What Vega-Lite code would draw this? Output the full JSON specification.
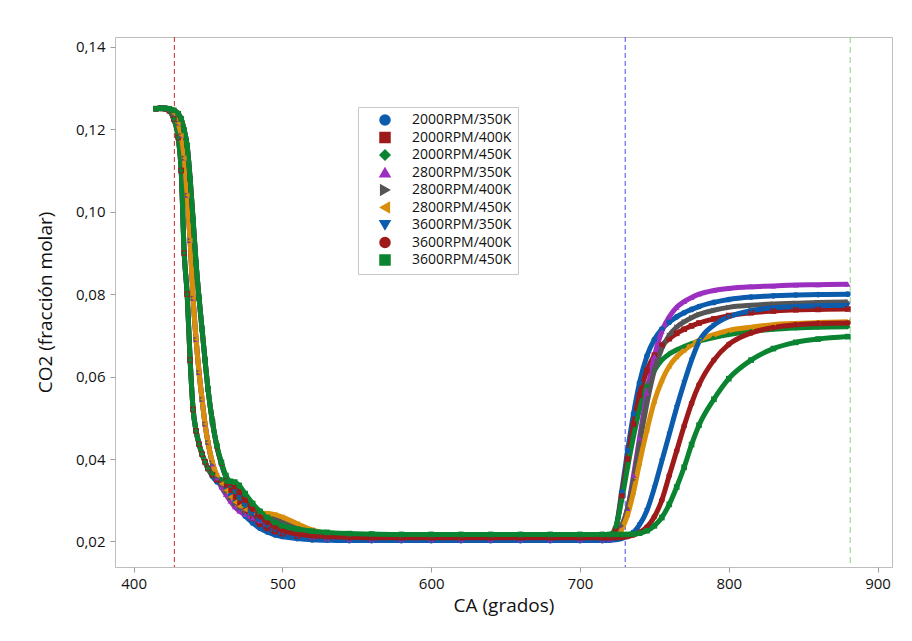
{
"$schema":"https://vega.github.io/schema/vega-lite/v6.json",
"width":777,"height":530,
"autosize":{"type":"none"},
"padding":{"left":115,"top":37,"right":20,"bottom":74},
"background":"white",
"config":{
"view":{"stroke":"#bdbdbd","strokeWidth":1},
"font":"Open Sans",
"axis":{"domain":false,"grid":false,"tickColor":"#9e9e9e","tickSize":5,"labelFont":"Open Sans","labelFontSize":15,"labelColor":"#111","titleFont":"Open Sans","titleFontSize":19,"titleFontWeight":"normal","titleColor":"#111"},
"legend":{"labelFont":"Open Sans","labelFontSize":14,"labelColor":"#111"}
},
"data":{"values":[
{"s":"2000RPM/350K","x":415,"y":0.1250},{"s":"2000RPM/350K","x":418,"y":0.1251},{"s":"2000RPM/350K","x":421,"y":0.1250},{"s":"2000RPM/350K","x":424,"y":0.1245},{"s":"2000RPM/350K","x":427,"y":0.1225},{"s":"2000RPM/350K","x":430,"y":0.1180},{"s":"2000RPM/350K","x":432,"y":0.1100},{"s":"2000RPM/350K","x":434,"y":0.0900},{"s":"2000RPM/350K","x":436,"y":0.0800},{"s":"2000RPM/350K","x":438,"y":0.0640},{"s":"2000RPM/350K","x":440,"y":0.0520},{"s":"2000RPM/350K","x":442,"y":0.0468},{"s":"2000RPM/350K","x":444,"y":0.0436},{"s":"2000RPM/350K","x":446,"y":0.0412},{"s":"2000RPM/350K","x":448,"y":0.0393},{"s":"2000RPM/350K","x":450,"y":0.0377},
{"s":"2000RPM/350K","x":453,"y":0.0358},{"s":"2000RPM/350K","x":456,"y":0.0345},{"s":"2000RPM/350K","x":459,"y":0.0338},{"s":"2000RPM/350K","x":462,"y":0.0328},{"s":"2000RPM/350K","x":465,"y":0.0312},{"s":"2000RPM/350K","x":468,"y":0.0295},{"s":"2000RPM/350K","x":471,"y":0.0280},{"s":"2000RPM/350K","x":475,"y":0.0262},{"s":"2000RPM/350K","x":480,"y":0.0245},{"s":"2000RPM/350K","x":485,"y":0.0232},{"s":"2000RPM/350K","x":490,"y":0.0223},{"s":"2000RPM/350K","x":495,"y":0.0216},{"s":"2000RPM/350K","x":500,"y":0.0212},{"s":"2000RPM/350K","x":510,"y":0.0207},{"s":"2000RPM/350K","x":520,"y":0.0204},{"s":"2000RPM/350K","x":530,"y":0.0203},
{"s":"2000RPM/350K","x":545,"y":0.0202},{"s":"2000RPM/350K","x":560,"y":0.0202},{"s":"2000RPM/350K","x":580,"y":0.0202},{"s":"2000RPM/350K","x":600,"y":0.0202},{"s":"2000RPM/350K","x":620,"y":0.0202},{"s":"2000RPM/350K","x":640,"y":0.0202},{"s":"2000RPM/350K","x":660,"y":0.0202},{"s":"2000RPM/350K","x":680,"y":0.0202},{"s":"2000RPM/350K","x":700,"y":0.0202},{"s":"2000RPM/350K","x":715,"y":0.0202},{"s":"2000RPM/350K","x":720,"y":0.0203},
{"s":"2000RPM/350K","x":724,"y":0.0230},{"s":"2000RPM/350K","x":728,"y":0.0320},{"s":"2000RPM/350K","x":732,"y":0.0420},{"s":"2000RPM/350K","x":736,"y":0.0510},{"s":"2000RPM/350K","x":740,"y":0.0585},{"s":"2000RPM/350K","x":745,"y":0.0650},{"s":"2000RPM/350K","x":750,"y":0.0690},{"s":"2000RPM/350K","x":755,"y":0.0715},{"s":"2000RPM/350K","x":760,"y":0.0732},{"s":"2000RPM/350K","x":765,"y":0.0745},{"s":"2000RPM/350K","x":770,"y":0.0755},{"s":"2000RPM/350K","x":775,"y":0.0763},{"s":"2000RPM/350K","x":780,"y":0.0770},{"s":"2000RPM/350K","x":790,"y":0.0780},{"s":"2000RPM/350K","x":800,"y":0.0787},{"s":"2000RPM/350K","x":815,"y":0.0793},{"s":"2000RPM/350K","x":830,"y":0.0796},{"s":"2000RPM/350K","x":845,"y":0.0798},{"s":"2000RPM/350K","x":860,"y":0.0799},{"s":"2000RPM/350K","x":880,"y":0.0800},

{"s":"2000RPM/400K","x":415,"y":0.1250},{"s":"2000RPM/400K","x":418,"y":0.1251},{"s":"2000RPM/400K","x":421,"y":0.1250},{"s":"2000RPM/400K","x":424,"y":0.1245},{"s":"2000RPM/400K","x":427,"y":0.1225},{"s":"2000RPM/400K","x":430,"y":0.1180},{"s":"2000RPM/400K","x":432,"y":0.1100},{"s":"2000RPM/400K","x":434,"y":0.0900},{"s":"2000RPM/400K","x":436,"y":0.0800},{"s":"2000RPM/400K","x":438,"y":0.0640},{"s":"2000RPM/400K","x":440,"y":0.0520},{"s":"2000RPM/400K","x":442,"y":0.0468},{"s":"2000RPM/400K","x":444,"y":0.0436},{"s":"2000RPM/400K","x":446,"y":0.0412},{"s":"2000RPM/400K","x":448,"y":0.0393},{"s":"2000RPM/400K","x":450,"y":0.0377},
{"s":"2000RPM/400K","x":453,"y":0.0362},{"s":"2000RPM/400K","x":456,"y":0.0350},{"s":"2000RPM/400K","x":459,"y":0.0346},{"s":"2000RPM/400K","x":462,"y":0.0338},{"s":"2000RPM/400K","x":465,"y":0.0325},{"s":"2000RPM/400K","x":468,"y":0.0308},{"s":"2000RPM/400K","x":471,"y":0.0292},{"s":"2000RPM/400K","x":475,"y":0.0274},{"s":"2000RPM/400K","x":480,"y":0.0256},{"s":"2000RPM/400K","x":485,"y":0.0242},{"s":"2000RPM/400K","x":490,"y":0.0232},{"s":"2000RPM/400K","x":495,"y":0.0224},{"s":"2000RPM/400K","x":500,"y":0.0219},{"s":"2000RPM/400K","x":510,"y":0.0213},{"s":"2000RPM/400K","x":520,"y":0.0210},{"s":"2000RPM/400K","x":530,"y":0.0209},
{"s":"2000RPM/400K","x":545,"y":0.0208},{"s":"2000RPM/400K","x":560,"y":0.0208},{"s":"2000RPM/400K","x":580,"y":0.0208},{"s":"2000RPM/400K","x":600,"y":0.0208},{"s":"2000RPM/400K","x":620,"y":0.0208},{"s":"2000RPM/400K","x":640,"y":0.0208},{"s":"2000RPM/400K","x":660,"y":0.0208},{"s":"2000RPM/400K","x":680,"y":0.0208},{"s":"2000RPM/400K","x":700,"y":0.0208},{"s":"2000RPM/400K","x":715,"y":0.0208},{"s":"2000RPM/400K","x":720,"y":0.0208},
{"s":"2000RPM/400K","x":724,"y":0.0230},{"s":"2000RPM/400K","x":728,"y":0.0310},{"s":"2000RPM/400K","x":732,"y":0.0400},{"s":"2000RPM/400K","x":736,"y":0.0485},{"s":"2000RPM/400K","x":740,"y":0.0555},{"s":"2000RPM/400K","x":745,"y":0.0615},{"s":"2000RPM/400K","x":750,"y":0.0652},{"s":"2000RPM/400K","x":755,"y":0.0676},{"s":"2000RPM/400K","x":760,"y":0.0692},{"s":"2000RPM/400K","x":765,"y":0.0705},{"s":"2000RPM/400K","x":770,"y":0.0715},{"s":"2000RPM/400K","x":775,"y":0.0723},{"s":"2000RPM/400K","x":780,"y":0.0730},{"s":"2000RPM/400K","x":790,"y":0.0740},{"s":"2000RPM/400K","x":800,"y":0.0748},{"s":"2000RPM/400K","x":815,"y":0.0755},{"s":"2000RPM/400K","x":830,"y":0.0759},{"s":"2000RPM/400K","x":845,"y":0.0762},{"s":"2000RPM/400K","x":860,"y":0.0763},{"s":"2000RPM/400K","x":880,"y":0.0764},

{"s":"2000RPM/450K","x":415,"y":0.1250},{"s":"2000RPM/450K","x":418,"y":0.1251},{"s":"2000RPM/450K","x":421,"y":0.1250},{"s":"2000RPM/450K","x":424,"y":0.1245},{"s":"2000RPM/450K","x":427,"y":0.1225},{"s":"2000RPM/450K","x":430,"y":0.1180},{"s":"2000RPM/450K","x":432,"y":0.1100},{"s":"2000RPM/450K","x":434,"y":0.0900},{"s":"2000RPM/450K","x":436,"y":0.0800},{"s":"2000RPM/450K","x":438,"y":0.0640},{"s":"2000RPM/450K","x":440,"y":0.0520},{"s":"2000RPM/450K","x":442,"y":0.0468},{"s":"2000RPM/450K","x":444,"y":0.0436},{"s":"2000RPM/450K","x":446,"y":0.0412},{"s":"2000RPM/450K","x":448,"y":0.0393},{"s":"2000RPM/450K","x":450,"y":0.0377},
{"s":"2000RPM/450K","x":453,"y":0.0364},{"s":"2000RPM/450K","x":456,"y":0.0354},{"s":"2000RPM/450K","x":459,"y":0.0350},{"s":"2000RPM/450K","x":462,"y":0.0345},{"s":"2000RPM/450K","x":465,"y":0.0336},{"s":"2000RPM/450K","x":468,"y":0.0322},{"s":"2000RPM/450K","x":471,"y":0.0306},{"s":"2000RPM/450K","x":475,"y":0.0288},{"s":"2000RPM/450K","x":480,"y":0.0270},{"s":"2000RPM/450K","x":485,"y":0.0255},{"s":"2000RPM/450K","x":490,"y":0.0244},{"s":"2000RPM/450K","x":495,"y":0.0235},{"s":"2000RPM/450K","x":500,"y":0.0229},{"s":"2000RPM/450K","x":510,"y":0.0222},{"s":"2000RPM/450K","x":520,"y":0.0219},{"s":"2000RPM/450K","x":530,"y":0.0218},
{"s":"2000RPM/450K","x":545,"y":0.0217},{"s":"2000RPM/450K","x":560,"y":0.0217},{"s":"2000RPM/450K","x":580,"y":0.0217},{"s":"2000RPM/450K","x":600,"y":0.0217},{"s":"2000RPM/450K","x":620,"y":0.0217},{"s":"2000RPM/450K","x":640,"y":0.0217},{"s":"2000RPM/450K","x":660,"y":0.0217},{"s":"2000RPM/450K","x":680,"y":0.0217},{"s":"2000RPM/450K","x":700,"y":0.0217},{"s":"2000RPM/450K","x":715,"y":0.0217},{"s":"2000RPM/450K","x":720,"y":0.0217},
{"s":"2000RPM/450K","x":724,"y":0.0235},{"s":"2000RPM/450K","x":728,"y":0.0300},{"s":"2000RPM/450K","x":732,"y":0.0380},{"s":"2000RPM/450K","x":736,"y":0.0455},{"s":"2000RPM/450K","x":740,"y":0.0520},{"s":"2000RPM/450K","x":745,"y":0.0578},{"s":"2000RPM/450K","x":750,"y":0.0615},{"s":"2000RPM/450K","x":755,"y":0.0640},{"s":"2000RPM/450K","x":760,"y":0.0655},{"s":"2000RPM/450K","x":765,"y":0.0665},{"s":"2000RPM/450K","x":770,"y":0.0673},{"s":"2000RPM/450K","x":775,"y":0.0680},{"s":"2000RPM/450K","x":780,"y":0.0686},{"s":"2000RPM/450K","x":790,"y":0.0695},{"s":"2000RPM/450K","x":800,"y":0.0702},{"s":"2000RPM/450K","x":815,"y":0.0710},{"s":"2000RPM/450K","x":830,"y":0.0715},{"s":"2000RPM/450K","x":845,"y":0.0718},{"s":"2000RPM/450K","x":860,"y":0.0720},{"s":"2000RPM/450K","x":880,"y":0.0721},

{"s":"2800RPM/350K","x":415,"y":0.1250},{"s":"2800RPM/350K","x":418,"y":0.1251},{"s":"2800RPM/350K","x":421,"y":0.1251},{"s":"2800RPM/350K","x":424,"y":0.1248},{"s":"2800RPM/350K","x":427,"y":0.1238},{"s":"2800RPM/350K","x":430,"y":0.1215},{"s":"2800RPM/350K","x":432,"y":0.1185},{"s":"2800RPM/350K","x":434,"y":0.1130},{"s":"2800RPM/350K","x":436,"y":0.1040},{"s":"2800RPM/350K","x":438,"y":0.0930},{"s":"2800RPM/350K","x":440,"y":0.0790},{"s":"2800RPM/350K","x":442,"y":0.0690},{"s":"2800RPM/350K","x":444,"y":0.0610},{"s":"2800RPM/350K","x":446,"y":0.0545},{"s":"2800RPM/350K","x":448,"y":0.0485},{"s":"2800RPM/350K","x":450,"y":0.0440},
{"s":"2800RPM/350K","x":453,"y":0.0388},{"s":"2800RPM/350K","x":456,"y":0.0354},{"s":"2800RPM/350K","x":459,"y":0.0332},{"s":"2800RPM/350K","x":462,"y":0.0314},{"s":"2800RPM/350K","x":465,"y":0.0298},{"s":"2800RPM/350K","x":468,"y":0.0284},{"s":"2800RPM/350K","x":471,"y":0.0274},{"s":"2800RPM/350K","x":475,"y":0.0265},{"s":"2800RPM/350K","x":480,"y":0.0257},{"s":"2800RPM/350K","x":485,"y":0.0250},{"s":"2800RPM/350K","x":490,"y":0.0243},{"s":"2800RPM/350K","x":495,"y":0.0236},{"s":"2800RPM/350K","x":500,"y":0.0229},{"s":"2800RPM/350K","x":510,"y":0.0218},{"s":"2800RPM/350K","x":520,"y":0.0210},{"s":"2800RPM/350K","x":530,"y":0.0206},
{"s":"2800RPM/350K","x":545,"y":0.0204},{"s":"2800RPM/350K","x":560,"y":0.0204},{"s":"2800RPM/350K","x":580,"y":0.0204},{"s":"2800RPM/350K","x":600,"y":0.0204},{"s":"2800RPM/350K","x":620,"y":0.0204},{"s":"2800RPM/350K","x":640,"y":0.0204},{"s":"2800RPM/350K","x":660,"y":0.0204},{"s":"2800RPM/350K","x":680,"y":0.0204},{"s":"2800RPM/350K","x":700,"y":0.0204},{"s":"2800RPM/350K","x":715,"y":0.0204},{"s":"2800RPM/350K","x":720,"y":0.0204},
{"s":"2800RPM/350K","x":724,"y":0.0210},{"s":"2800RPM/350K","x":728,"y":0.0235},{"s":"2800RPM/350K","x":732,"y":0.0280},{"s":"2800RPM/350K","x":736,"y":0.0360},{"s":"2800RPM/350K","x":740,"y":0.0450},{"s":"2800RPM/350K","x":745,"y":0.0560},{"s":"2800RPM/350K","x":750,"y":0.0650},{"s":"2800RPM/350K","x":755,"y":0.0710},{"s":"2800RPM/350K","x":760,"y":0.0745},{"s":"2800RPM/350K","x":765,"y":0.0768},{"s":"2800RPM/350K","x":770,"y":0.0782},{"s":"2800RPM/350K","x":775,"y":0.0792},{"s":"2800RPM/350K","x":780,"y":0.0800},{"s":"2800RPM/350K","x":790,"y":0.0809},{"s":"2800RPM/350K","x":800,"y":0.0814},{"s":"2800RPM/350K","x":815,"y":0.0818},{"s":"2800RPM/350K","x":830,"y":0.0820},{"s":"2800RPM/350K","x":845,"y":0.0822},{"s":"2800RPM/350K","x":860,"y":0.0823},{"s":"2800RPM/350K","x":880,"y":0.0824},

{"s":"2800RPM/400K","x":415,"y":0.1250},{"s":"2800RPM/400K","x":418,"y":0.1251},{"s":"2800RPM/400K","x":421,"y":0.1251},{"s":"2800RPM/400K","x":424,"y":0.1248},{"s":"2800RPM/400K","x":427,"y":0.1238},{"s":"2800RPM/400K","x":430,"y":0.1215},{"s":"2800RPM/400K","x":432,"y":0.1185},{"s":"2800RPM/400K","x":434,"y":0.1130},{"s":"2800RPM/400K","x":436,"y":0.1040},{"s":"2800RPM/400K","x":438,"y":0.0930},{"s":"2800RPM/400K","x":440,"y":0.0790},{"s":"2800RPM/400K","x":442,"y":0.0690},{"s":"2800RPM/400K","x":444,"y":0.0610},{"s":"2800RPM/400K","x":446,"y":0.0545},{"s":"2800RPM/400K","x":448,"y":0.0485},{"s":"2800RPM/400K","x":450,"y":0.0440},
{"s":"2800RPM/400K","x":453,"y":0.0390},{"s":"2800RPM/400K","x":456,"y":0.0357},{"s":"2800RPM/400K","x":459,"y":0.0337},{"s":"2800RPM/400K","x":462,"y":0.0321},{"s":"2800RPM/400K","x":465,"y":0.0305},{"s":"2800RPM/400K","x":468,"y":0.0291},{"s":"2800RPM/400K","x":471,"y":0.0281},{"s":"2800RPM/400K","x":475,"y":0.0273},{"s":"2800RPM/400K","x":480,"y":0.0266},{"s":"2800RPM/400K","x":485,"y":0.0263},{"s":"2800RPM/400K","x":490,"y":0.0260},{"s":"2800RPM/400K","x":495,"y":0.0255},{"s":"2800RPM/400K","x":500,"y":0.0248},{"s":"2800RPM/400K","x":510,"y":0.0233},{"s":"2800RPM/400K","x":520,"y":0.0220},{"s":"2800RPM/400K","x":530,"y":0.0213},
{"s":"2800RPM/400K","x":545,"y":0.0210},{"s":"2800RPM/400K","x":560,"y":0.0210},{"s":"2800RPM/400K","x":580,"y":0.0210},{"s":"2800RPM/400K","x":600,"y":0.0210},{"s":"2800RPM/400K","x":620,"y":0.0210},{"s":"2800RPM/400K","x":640,"y":0.0210},{"s":"2800RPM/400K","x":660,"y":0.0210},{"s":"2800RPM/400K","x":680,"y":0.0210},{"s":"2800RPM/400K","x":700,"y":0.0210},{"s":"2800RPM/400K","x":715,"y":0.0210},{"s":"2800RPM/400K","x":720,"y":0.0210},
{"s":"2800RPM/400K","x":724,"y":0.0215},{"s":"2800RPM/400K","x":728,"y":0.0238},{"s":"2800RPM/400K","x":732,"y":0.0280},{"s":"2800RPM/400K","x":736,"y":0.0350},{"s":"2800RPM/400K","x":740,"y":0.0435},{"s":"2800RPM/400K","x":745,"y":0.0535},{"s":"2800RPM/400K","x":750,"y":0.0615},{"s":"2800RPM/400K","x":755,"y":0.0668},{"s":"2800RPM/400K","x":760,"y":0.0700},{"s":"2800RPM/400K","x":765,"y":0.0720},{"s":"2800RPM/400K","x":770,"y":0.0733},{"s":"2800RPM/400K","x":775,"y":0.0743},{"s":"2800RPM/400K","x":780,"y":0.0751},{"s":"2800RPM/400K","x":790,"y":0.0761},{"s":"2800RPM/400K","x":800,"y":0.0768},{"s":"2800RPM/400K","x":815,"y":0.0773},{"s":"2800RPM/400K","x":830,"y":0.0776},{"s":"2800RPM/400K","x":845,"y":0.0778},{"s":"2800RPM/400K","x":860,"y":0.0780},{"s":"2800RPM/400K","x":880,"y":0.0781},

{"s":"2800RPM/450K","x":415,"y":0.1250},{"s":"2800RPM/450K","x":418,"y":0.1251},{"s":"2800RPM/450K","x":421,"y":0.1251},{"s":"2800RPM/450K","x":424,"y":0.1248},{"s":"2800RPM/450K","x":427,"y":0.1238},{"s":"2800RPM/450K","x":430,"y":0.1215},{"s":"2800RPM/450K","x":432,"y":0.1185},{"s":"2800RPM/450K","x":434,"y":0.1130},{"s":"2800RPM/450K","x":436,"y":0.1040},{"s":"2800RPM/450K","x":438,"y":0.0930},{"s":"2800RPM/450K","x":440,"y":0.0790},{"s":"2800RPM/450K","x":442,"y":0.0690},{"s":"2800RPM/450K","x":444,"y":0.0610},{"s":"2800RPM/450K","x":446,"y":0.0545},{"s":"2800RPM/450K","x":448,"y":0.0485},{"s":"2800RPM/450K","x":450,"y":0.0440},
{"s":"2800RPM/450K","x":453,"y":0.0392},{"s":"2800RPM/450K","x":456,"y":0.0360},{"s":"2800RPM/450K","x":459,"y":0.0340},{"s":"2800RPM/450K","x":462,"y":0.0324},{"s":"2800RPM/450K","x":465,"y":0.0308},{"s":"2800RPM/450K","x":468,"y":0.0295},{"s":"2800RPM/450K","x":471,"y":0.0285},{"s":"2800RPM/450K","x":475,"y":0.0277},{"s":"2800RPM/450K","x":480,"y":0.0271},{"s":"2800RPM/450K","x":485,"y":0.0269},{"s":"2800RPM/450K","x":490,"y":0.0268},{"s":"2800RPM/450K","x":495,"y":0.0265},{"s":"2800RPM/450K","x":500,"y":0.0259},{"s":"2800RPM/450K","x":510,"y":0.0243},{"s":"2800RPM/450K","x":520,"y":0.0228},{"s":"2800RPM/450K","x":530,"y":0.0220},
{"s":"2800RPM/450K","x":545,"y":0.0217},{"s":"2800RPM/450K","x":560,"y":0.0216},{"s":"2800RPM/450K","x":580,"y":0.0216},{"s":"2800RPM/450K","x":600,"y":0.0216},{"s":"2800RPM/450K","x":620,"y":0.0216},{"s":"2800RPM/450K","x":640,"y":0.0216},{"s":"2800RPM/450K","x":660,"y":0.0216},{"s":"2800RPM/450K","x":680,"y":0.0216},{"s":"2800RPM/450K","x":700,"y":0.0216},{"s":"2800RPM/450K","x":715,"y":0.0216},{"s":"2800RPM/450K","x":720,"y":0.0216},
{"s":"2800RPM/450K","x":724,"y":0.0218},{"s":"2800RPM/450K","x":728,"y":0.0230},{"s":"2800RPM/450K","x":732,"y":0.0265},{"s":"2800RPM/450K","x":736,"y":0.0320},{"s":"2800RPM/450K","x":740,"y":0.0390},{"s":"2800RPM/450K","x":745,"y":0.0470},{"s":"2800RPM/450K","x":750,"y":0.0540},{"s":"2800RPM/450K","x":755,"y":0.0590},{"s":"2800RPM/450K","x":760,"y":0.0625},{"s":"2800RPM/450K","x":765,"y":0.0648},{"s":"2800RPM/450K","x":770,"y":0.0664},{"s":"2800RPM/450K","x":775,"y":0.0677},{"s":"2800RPM/450K","x":780,"y":0.0688},{"s":"2800RPM/450K","x":790,"y":0.0702},{"s":"2800RPM/450K","x":800,"y":0.0712},{"s":"2800RPM/450K","x":815,"y":0.0720},{"s":"2800RPM/450K","x":830,"y":0.0726},{"s":"2800RPM/450K","x":845,"y":0.0729},{"s":"2800RPM/450K","x":860,"y":0.0731},{"s":"2800RPM/450K","x":880,"y":0.0733},

{"s":"3600RPM/350K","x":415,"y":0.1250},{"s":"3600RPM/350K","x":418,"y":0.1251},{"s":"3600RPM/350K","x":421,"y":0.1251},{"s":"3600RPM/350K","x":424,"y":0.1250},{"s":"3600RPM/350K","x":427,"y":0.1246},{"s":"3600RPM/350K","x":430,"y":0.1238},{"s":"3600RPM/350K","x":432,"y":0.1225},{"s":"3600RPM/350K","x":434,"y":0.1198},{"s":"3600RPM/350K","x":436,"y":0.1160},{"s":"3600RPM/350K","x":438,"y":0.1080},{"s":"3600RPM/350K","x":440,"y":0.0980},{"s":"3600RPM/350K","x":442,"y":0.0875},{"s":"3600RPM/350K","x":444,"y":0.0790},{"s":"3600RPM/350K","x":446,"y":0.0715},{"s":"3600RPM/350K","x":448,"y":0.0640},{"s":"3600RPM/350K","x":450,"y":0.0570},
{"s":"3600RPM/350K","x":453,"y":0.0490},{"s":"3600RPM/350K","x":456,"y":0.0430},{"s":"3600RPM/350K","x":459,"y":0.0388},{"s":"3600RPM/350K","x":462,"y":0.0356},{"s":"3600RPM/350K","x":465,"y":0.0336},{"s":"3600RPM/350K","x":468,"y":0.0322},{"s":"3600RPM/350K","x":471,"y":0.0306},{"s":"3600RPM/350K","x":475,"y":0.0287},{"s":"3600RPM/350K","x":480,"y":0.0266},{"s":"3600RPM/350K","x":485,"y":0.0249},{"s":"3600RPM/350K","x":490,"y":0.0236},{"s":"3600RPM/350K","x":495,"y":0.0226},{"s":"3600RPM/350K","x":500,"y":0.0219},{"s":"3600RPM/350K","x":510,"y":0.0211},{"s":"3600RPM/350K","x":520,"y":0.0207},{"s":"3600RPM/350K","x":530,"y":0.0205},
{"s":"3600RPM/350K","x":545,"y":0.0203},{"s":"3600RPM/350K","x":560,"y":0.0203},{"s":"3600RPM/350K","x":580,"y":0.0203},{"s":"3600RPM/350K","x":600,"y":0.0203},{"s":"3600RPM/350K","x":620,"y":0.0203},{"s":"3600RPM/350K","x":640,"y":0.0203},{"s":"3600RPM/350K","x":660,"y":0.0203},{"s":"3600RPM/350K","x":680,"y":0.0203},{"s":"3600RPM/350K","x":700,"y":0.0203},{"s":"3600RPM/350K","x":715,"y":0.0203},{"s":"3600RPM/350K","x":720,"y":0.0203},
{"s":"3600RPM/350K","x":724,"y":0.0204},{"s":"3600RPM/350K","x":728,"y":0.0207},{"s":"3600RPM/350K","x":732,"y":0.0213},{"s":"3600RPM/350K","x":736,"y":0.0222},{"s":"3600RPM/350K","x":740,"y":0.0240},{"s":"3600RPM/350K","x":745,"y":0.0275},{"s":"3600RPM/350K","x":750,"y":0.0330},{"s":"3600RPM/350K","x":755,"y":0.0395},{"s":"3600RPM/350K","x":760,"y":0.0460},{"s":"3600RPM/350K","x":765,"y":0.0525},{"s":"3600RPM/350K","x":770,"y":0.0585},{"s":"3600RPM/350K","x":775,"y":0.0640},{"s":"3600RPM/350K","x":780,"y":0.0685},{"s":"3600RPM/350K","x":790,"y":0.0725},{"s":"3600RPM/350K","x":800,"y":0.0745},{"s":"3600RPM/350K","x":815,"y":0.0760},{"s":"3600RPM/350K","x":830,"y":0.0767},{"s":"3600RPM/350K","x":845,"y":0.0770},{"s":"3600RPM/350K","x":860,"y":0.0772},{"s":"3600RPM/350K","x":880,"y":0.0773},

{"s":"3600RPM/400K","x":415,"y":0.1250},{"s":"3600RPM/400K","x":418,"y":0.1251},{"s":"3600RPM/400K","x":421,"y":0.1251},{"s":"3600RPM/400K","x":424,"y":0.1250},{"s":"3600RPM/400K","x":427,"y":0.1246},{"s":"3600RPM/400K","x":430,"y":0.1238},{"s":"3600RPM/400K","x":432,"y":0.1225},{"s":"3600RPM/400K","x":434,"y":0.1198},{"s":"3600RPM/400K","x":436,"y":0.1160},{"s":"3600RPM/400K","x":438,"y":0.1080},{"s":"3600RPM/400K","x":440,"y":0.0980},{"s":"3600RPM/400K","x":442,"y":0.0875},{"s":"3600RPM/400K","x":444,"y":0.0790},{"s":"3600RPM/400K","x":446,"y":0.0715},{"s":"3600RPM/400K","x":448,"y":0.0640},{"s":"3600RPM/400K","x":450,"y":0.0570},
{"s":"3600RPM/400K","x":453,"y":0.0490},{"s":"3600RPM/400K","x":456,"y":0.0430},{"s":"3600RPM/400K","x":459,"y":0.0390},{"s":"3600RPM/400K","x":462,"y":0.0358},{"s":"3600RPM/400K","x":465,"y":0.0342},{"s":"3600RPM/400K","x":468,"y":0.0333},{"s":"3600RPM/400K","x":471,"y":0.0320},{"s":"3600RPM/400K","x":475,"y":0.0300},{"s":"3600RPM/400K","x":480,"y":0.0278},{"s":"3600RPM/400K","x":485,"y":0.0260},{"s":"3600RPM/400K","x":490,"y":0.0246},{"s":"3600RPM/400K","x":495,"y":0.0235},{"s":"3600RPM/400K","x":500,"y":0.0227},{"s":"3600RPM/400K","x":510,"y":0.0218},{"s":"3600RPM/400K","x":520,"y":0.0214},{"s":"3600RPM/400K","x":530,"y":0.0212},
{"s":"3600RPM/400K","x":545,"y":0.0210},{"s":"3600RPM/400K","x":560,"y":0.0209},{"s":"3600RPM/400K","x":580,"y":0.0209},{"s":"3600RPM/400K","x":600,"y":0.0209},{"s":"3600RPM/400K","x":620,"y":0.0209},{"s":"3600RPM/400K","x":640,"y":0.0209},{"s":"3600RPM/400K","x":660,"y":0.0209},{"s":"3600RPM/400K","x":680,"y":0.0209},{"s":"3600RPM/400K","x":700,"y":0.0209},{"s":"3600RPM/400K","x":715,"y":0.0209},{"s":"3600RPM/400K","x":720,"y":0.0209},
{"s":"3600RPM/400K","x":724,"y":0.0209},{"s":"3600RPM/400K","x":728,"y":0.0210},{"s":"3600RPM/400K","x":732,"y":0.0212},{"s":"3600RPM/400K","x":736,"y":0.0216},{"s":"3600RPM/400K","x":740,"y":0.0222},{"s":"3600RPM/400K","x":745,"y":0.0235},{"s":"3600RPM/400K","x":750,"y":0.0260},{"s":"3600RPM/400K","x":755,"y":0.0300},{"s":"3600RPM/400K","x":760,"y":0.0360},{"s":"3600RPM/400K","x":765,"y":0.0420},{"s":"3600RPM/400K","x":770,"y":0.0480},{"s":"3600RPM/400K","x":775,"y":0.0535},{"s":"3600RPM/400K","x":780,"y":0.0580},{"s":"3600RPM/400K","x":790,"y":0.0640},{"s":"3600RPM/400K","x":800,"y":0.0678},{"s":"3600RPM/400K","x":815,"y":0.0706},{"s":"3600RPM/400K","x":830,"y":0.0719},{"s":"3600RPM/400K","x":845,"y":0.0726},{"s":"3600RPM/400K","x":860,"y":0.0729},{"s":"3600RPM/400K","x":880,"y":0.0730},

{"s":"3600RPM/450K","x":415,"y":0.1250},{"s":"3600RPM/450K","x":418,"y":0.1251},{"s":"3600RPM/450K","x":421,"y":0.1251},{"s":"3600RPM/450K","x":424,"y":0.1250},{"s":"3600RPM/450K","x":427,"y":0.1246},{"s":"3600RPM/450K","x":430,"y":0.1238},{"s":"3600RPM/450K","x":432,"y":0.1225},{"s":"3600RPM/450K","x":434,"y":0.1198},{"s":"3600RPM/450K","x":436,"y":0.1160},{"s":"3600RPM/450K","x":438,"y":0.1080},{"s":"3600RPM/450K","x":440,"y":0.0980},{"s":"3600RPM/450K","x":442,"y":0.0875},{"s":"3600RPM/450K","x":444,"y":0.0790},{"s":"3600RPM/450K","x":446,"y":0.0715},{"s":"3600RPM/450K","x":448,"y":0.0640},{"s":"3600RPM/450K","x":450,"y":0.0570},
{"s":"3600RPM/450K","x":453,"y":0.0490},{"s":"3600RPM/450K","x":456,"y":0.0432},{"s":"3600RPM/450K","x":459,"y":0.0392},{"s":"3600RPM/450K","x":462,"y":0.0360},{"s":"3600RPM/450K","x":465,"y":0.0346},{"s":"3600RPM/450K","x":468,"y":0.0344},{"s":"3600RPM/450K","x":471,"y":0.0336},{"s":"3600RPM/450K","x":475,"y":0.0316},{"s":"3600RPM/450K","x":480,"y":0.0292},{"s":"3600RPM/450K","x":485,"y":0.0273},{"s":"3600RPM/450K","x":490,"y":0.0258},{"s":"3600RPM/450K","x":495,"y":0.0246},{"s":"3600RPM/450K","x":500,"y":0.0238},{"s":"3600RPM/450K","x":510,"y":0.0230},{"s":"3600RPM/450K","x":520,"y":0.0225},{"s":"3600RPM/450K","x":530,"y":0.0222},
{"s":"3600RPM/450K","x":545,"y":0.0219},{"s":"3600RPM/450K","x":560,"y":0.0218},{"s":"3600RPM/450K","x":580,"y":0.0217},{"s":"3600RPM/450K","x":600,"y":0.0217},{"s":"3600RPM/450K","x":620,"y":0.0217},{"s":"3600RPM/450K","x":640,"y":0.0217},{"s":"3600RPM/450K","x":660,"y":0.0217},{"s":"3600RPM/450K","x":680,"y":0.0217},{"s":"3600RPM/450K","x":700,"y":0.0217},{"s":"3600RPM/450K","x":715,"y":0.0217},{"s":"3600RPM/450K","x":720,"y":0.0217},
{"s":"3600RPM/450K","x":724,"y":0.0217},{"s":"3600RPM/450K","x":728,"y":0.0217},{"s":"3600RPM/450K","x":732,"y":0.0217},{"s":"3600RPM/450K","x":736,"y":0.0218},{"s":"3600RPM/450K","x":740,"y":0.0220},{"s":"3600RPM/450K","x":745,"y":0.0226},{"s":"3600RPM/450K","x":750,"y":0.0238},{"s":"3600RPM/450K","x":755,"y":0.0258},{"s":"3600RPM/450K","x":760,"y":0.0290},{"s":"3600RPM/450K","x":765,"y":0.0332},{"s":"3600RPM/450K","x":770,"y":0.0380},{"s":"3600RPM/450K","x":775,"y":0.0435},{"s":"3600RPM/450K","x":780,"y":0.0482},{"s":"3600RPM/450K","x":790,"y":0.0545},{"s":"3600RPM/450K","x":800,"y":0.0595},{"s":"3600RPM/450K","x":815,"y":0.0640},{"s":"3600RPM/450K","x":830,"y":0.0668},{"s":"3600RPM/450K","x":845,"y":0.0683},{"s":"3600RPM/450K","x":860,"y":0.0691},{"s":"3600RPM/450K","x":880,"y":0.0697}
]},
"layer":[
{"data":{"values":[{"x":427.4}]},"mark":{"type":"rule","color":"#c62828","strokeWidth":1,"strokeDash":[5,3]},"encoding":{"x":{"field":"x","type":"quantitative"}}},
{"data":{"values":[{"x":730.4}]},"mark":{"type":"rule","color":"#4a4aee","strokeWidth":1,"strokeDash":[5,3]},"encoding":{"x":{"field":"x","type":"quantitative"}}},
{"data":{"values":[{"x":881.6}]},"mark":{"type":"rule","color":"#8fd18f","strokeWidth":1,"strokeDash":[6,4]},"encoding":{"x":{"field":"x","type":"quantitative"}}},
{"mark":{"type":"line","strokeWidth":5,"interpolate":"monotone"},
 "encoding":{
  "x":{"field":"x","type":"quantitative"},
  "y":{"field":"y","type":"quantitative"},
  "color":{"field":"s","type":"nominal"}
 }},
{"mark":{"type":"point","filled":true,"size":32,"opacity":1},
 "encoding":{
  "x":{"field":"x","type":"quantitative","scale":{"domain":[387.5,909.7],"nice":false,"zero":false},"axis":{"values":[400,500,600,700,800,900],"title":"CA (grados)","format":"d","labelPadding":4,"titlePadding":5}},
  "y":{"field":"y","type":"quantitative","scale":{"domain":[0.0138,0.1424],"nice":false,"zero":false},"axis":{"values":[0.02,0.04,0.06,0.08,0.1,0.12,0.14],"title":"CO2 (fracción molar)","labelExpr":"replace(format(datum.value,'.2f'),'.',',')","labelPadding":5,"titlePadding":20}},
  "color":{"field":"s","type":"nominal","scale":{"domain":["2000RPM/350K","2000RPM/400K","2000RPM/450K","2800RPM/350K","2800RPM/400K","2800RPM/450K","3600RPM/350K","3600RPM/400K","3600RPM/450K"],"range":["#0b5cad","#9e1a1a","#0a8431","#9b2fc0","#555555","#d98e0b","#0b5cad","#9e1a1a","#0a8431"]},
   "legend":{"orient":"none","legendX":243,"legendY":70,"title":null,"strokeColor":"#c8c8c8","fillColor":"white","padding":6,"symbolSize":100,"symbolOffset":14,"labelOffset":20,"rowPadding":1.5,"labelLimit":200,"symbolOpacity":1}},
  "shape":{"field":"s","type":"nominal","scale":{"domain":["2000RPM/350K","2000RPM/400K","2000RPM/450K","2800RPM/350K","2800RPM/400K","2800RPM/450K","3600RPM/350K","3600RPM/400K","3600RPM/450K"],"range":["circle","square","diamond","triangle-up","triangle-right","triangle-left","triangle-down","circle","square"]}}
 }}
]
}
